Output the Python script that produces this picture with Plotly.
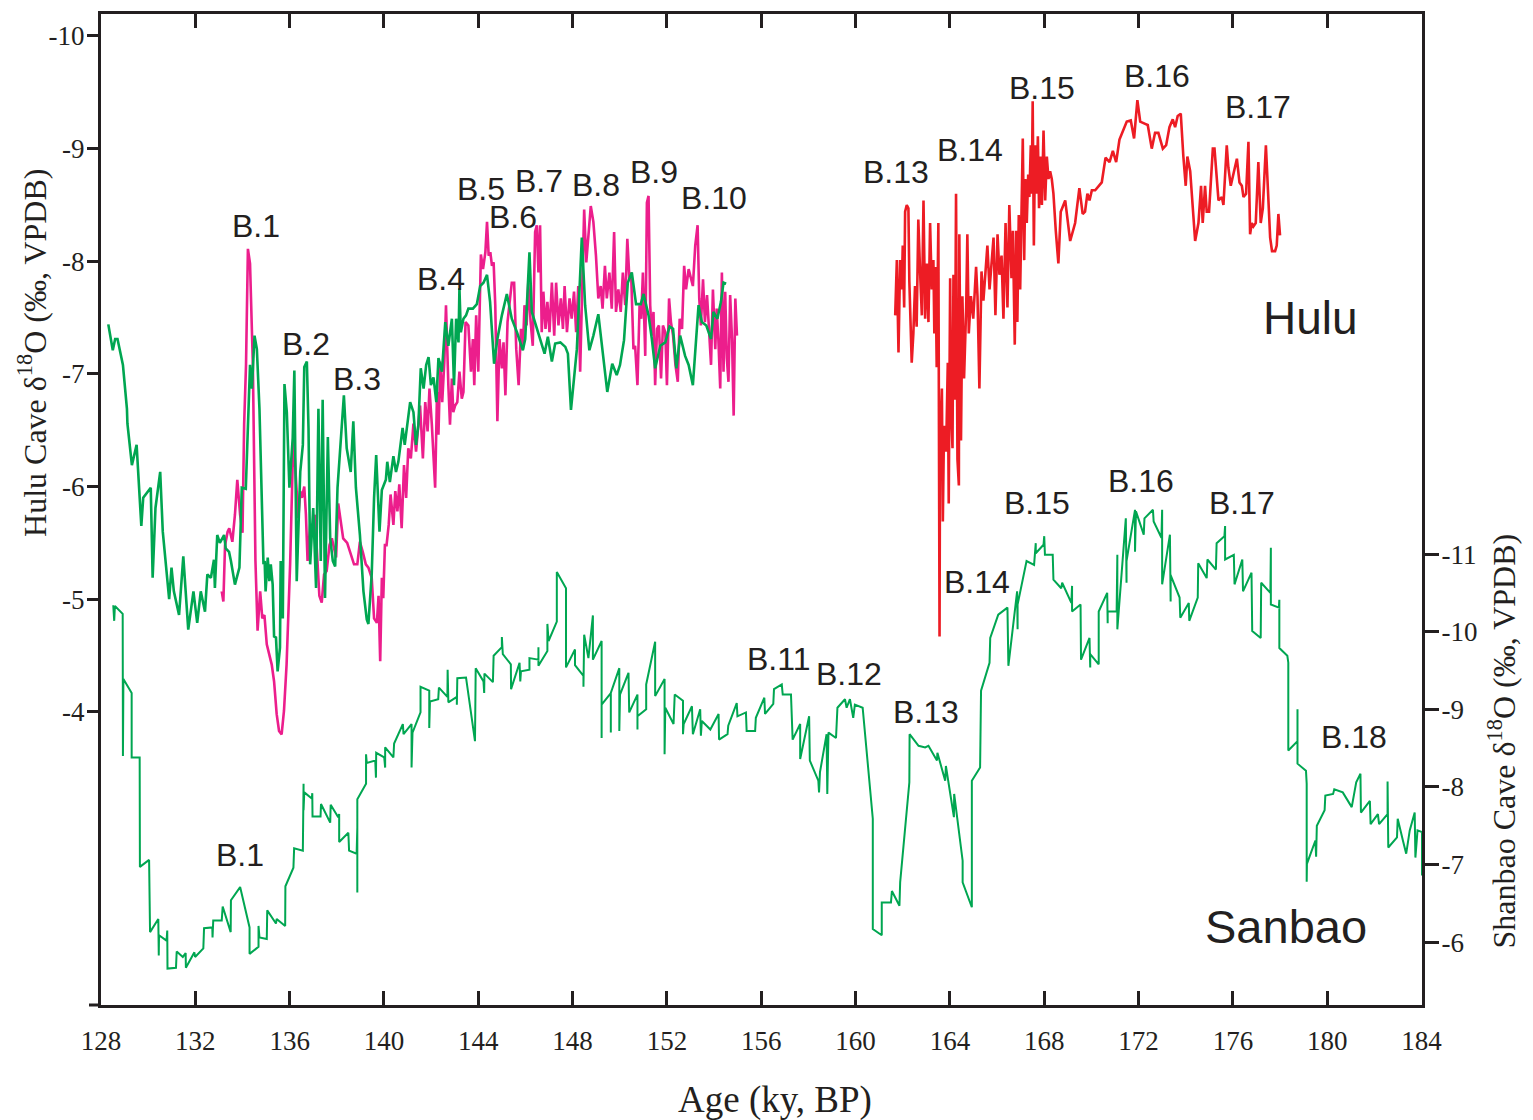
import plotly.graph_objects as go

# ---------------- Hulu Cave (left axis) ----------------
# (age ky BP, d18O permil) — green record
hulu_green = [
    (128.31, -7.44), (128.5, -7.21), (128.6, -7.31), (128.7, -7.31), (128.93, -7.08), (129.1, -6.69),
    (129.12, -6.56), (129.31, -6.19), (129.51, -6.37), (129.71, -5.65), (129.79, -5.90), (130.11, -5.99),
    (130.19, -5.19), (130.31, -5.81), (130.51, -6.13), (130.62, -5.60), (130.89, -5.00), (130.99, -5.28),
    (131.09, -5.07), (131.31, -4.86), (131.49, -5.38), (131.70, -4.73), (131.92, -5.07), (132.08, -4.79),
    (132.23, -5.07), (132.41, -4.89), (132.51, -5.22), (132.66, -5.19), (132.79, -5.35), (132.83, -5.10),
    (132.93, -5.57), (133.04, -5.50), (133.22, -5.57), (133.29, -5.45), (133.43, -5.42), (133.51, -5.34),
    (133.68, -5.13), (133.87, -5.28), (133.97, -5.99), (134.14, -5.98), (134.32, -7.08), (134.40, -6.87),
    (134.51, -7.34), (134.61, -7.22), (134.72, -6.69), (134.84, -5.72), (134.89, -5.31), (134.94, -5.34),
    (134.98, -5.07), (135.07, -5.37), (135.14, -5.16), (135.20, -5.31), (135.28, -5.13), (135.34, -4.67),
    (135.42, -4.66), (135.49, -4.36), (135.59, -4.57), (135.62, -5.34), (135.71, -4.83), (135.78, -6.91),
    (135.88, -6.66), (135.99, -5.99), (136.13, -6.43), (136.20, -7.03), (136.30, -5.16), (136.45, -6.13),
    (136.56, -6.37), (136.62, -7.06), (136.73, -7.11), (136.80, -6.52), (136.87, -5.31), (137.00, -5.81),
    (137.12, -5.10), (137.22, -6.69), (137.32, -5.34), (137.40, -6.77), (137.50, -5.01), (137.62, -6.44),
    (137.72, -5.54), (137.83, -5.34), (137.93, -5.29), (138.03, -5.99), (138.14, -6.34), (138.30, -6.81),
    (138.42, -6.34), (138.59, -6.13), (138.70, -6.58), (138.81, -5.99), (138.98, -5.57), (139.13, -5.07),
    (139.27, -4.82), (139.34, -4.78), (139.48, -5.22), (139.58, -5.90), (139.67, -6.28), (139.81, -5.60),
    (139.91, -5.97), (140.08, -6.06), (140.14, -6.22), (140.25, -6.04), (140.40, -6.27), (140.51, -6.13),
    (140.61, -6.22), (140.79, -6.52), (140.88, -6.37), (141.11, -6.75), (141.25, -6.66), (141.36, -6.37),
    (141.46, -6.55), (141.56, -7.05), (141.68, -6.87), (141.79, -7.08), (141.89, -7.15), (141.99, -6.90),
    (142.10, -6.97), (142.22, -6.75), (142.31, -7.14), (142.46, -7.02), (142.60, -7.46), (142.73, -7.25),
    (142.88, -7.49), (142.97, -6.90), (143.06, -7.49), (143.16, -7.28), (143.20, -7.76), (143.26, -7.37),
    (143.37, -7.49), (143.48, -7.52), (143.58, -7.58), (143.77, -7.58), (143.94, -7.62), (144.08, -7.78),
    (144.22, -7.81), (144.37, -7.88), (144.50, -7.64), (144.67, -7.09), (144.81, -7.31), (145.00, -7.52),
    (145.21, -7.71), (145.42, -7.49), (145.64, -7.37), (145.89, -7.21), (145.99, -7.31), (146.17, -8.08),
    (146.27, -7.55), (146.48, -7.40), (146.81, -7.18), (146.95, -7.33), (147.12, -7.11), (147.26, -7.27),
    (147.48, -7.28), (147.69, -7.24), (147.80, -7.18), (147.93, -6.68), (148.18, -7.22), (148.39, -8.21),
    (148.53, -7.61), (148.71, -7.21), (148.88, -7.34), (149.09, -7.53), (149.30, -7.17), (149.47, -6.84),
    (149.68, -7.09), (149.87, -6.99), (150.01, -7.08), (150.18, -7.30), (150.34, -7.81), (150.51, -7.90),
    (150.69, -7.62), (150.89, -7.62), (151.01, -7.71), (151.22, -7.52), (151.36, -7.31), (151.50, -7.05),
    (151.72, -7.25), (151.93, -7.28), (152.11, -7.42), (152.26, -7.40), (152.40, -7.05), (152.56, -7.34),
    (152.77, -7.16), (152.92, -7.08), (153.10, -6.90), (153.34, -7.61), (153.48, -7.46), (153.67, -7.43),
    (153.87, -7.31), (153.97, -7.55), (154.14, -7.49), (154.29, -7.64), (154.40, -7.81), (154.51, -7.80),
]

# magenta record
hulu_pink = [
    (133.12, -5.07), (133.19, -4.98), (133.26, -5.48), (133.37, -5.60), (133.44, -5.63), (133.57, -5.51),
    (133.68, -5.75), (133.78, -6.06), (133.90, -5.75), (134.00, -5.59), (134.07, -6.55), (134.15, -7.08),
    (134.23, -8.11), (134.32, -7.98), (134.44, -7.08), (134.49, -6.02), (134.55, -5.34), (134.64, -4.72),
    (134.75, -5.07), (134.84, -4.83), (134.93, -4.86), (135.03, -4.60), (135.24, -4.42), (135.34, -4.27),
    (135.45, -3.98), (135.55, -3.83), (135.66, -3.80), (135.76, -4.01), (135.87, -4.42), (136.02, -5.31),
    (136.09, -6.02), (136.16, -6.46), (136.28, -6.02), (136.37, -5.72), (136.45, -5.96), (136.52, -5.90),
    (136.62, -6.00), (136.69, -5.75), (136.76, -5.34), (136.87, -5.66), (136.98, -5.66), (137.08, -5.75),
    (137.15, -5.45), (137.26, -5.03), (137.36, -4.97), (137.46, -5.22), (137.57, -5.25), (137.69, -5.48),
    (137.79, -5.54), (137.86, -5.48), (137.97, -5.37), (138.06, -5.85), (138.16, -5.69), (138.27, -5.54),
    (138.44, -5.50), (138.56, -5.42), (138.73, -5.31), (138.87, -5.31), (138.98, -5.51), (139.10, -5.42),
    (139.23, -5.31), (139.34, -5.28), (139.48, -5.19), (139.58, -4.83), (139.70, -4.79), (139.77, -5.03),
    (139.84, -4.45), (139.91, -5.19), (139.97, -5.01), (140.04, -5.48), (140.11, -5.48), (140.20, -5.66),
    (140.28, -5.93), (140.40, -5.66), (140.48, -5.96), (140.57, -5.78), (140.65, -6.02), (140.75, -5.63),
    (140.85, -6.19), (140.94, -5.90), (141.03, -6.34), (141.14, -6.25), (141.25, -6.56), (141.36, -6.31),
    (141.46, -6.58), (141.53, -6.72), (141.65, -6.25), (141.75, -6.75), (141.85, -6.49), (141.93, -6.87),
    (142.03, -6.55), (142.10, -6.22), (142.17, -5.99), (142.25, -6.84), (142.31, -6.46), (142.39, -7.11),
    (142.47, -6.75), (142.56, -7.11), (142.63, -7.61), (142.73, -6.90), (142.80, -6.55), (142.88, -6.96),
    (142.94, -6.66), (143.02, -6.72), (143.11, -6.75), (143.20, -7.02), (143.30, -6.78), (143.37, -6.84),
    (143.46, -7.46), (143.58, -7.43), (143.69, -7.02), (143.77, -7.31), (143.83, -6.90), (143.91, -7.52),
    (144.00, -7.02), (144.11, -8.06), (144.20, -7.93), (144.30, -8.08), (144.37, -8.35), (144.44, -8.05),
    (144.51, -8.08), (144.58, -7.96), (144.65, -7.99), (144.72, -7.61), (144.81, -6.58), (144.90, -7.31),
    (145.00, -7.05), (145.07, -7.28), (145.15, -6.81), (145.24, -7.46), (145.32, -7.61), (145.42, -7.81),
    (145.52, -7.81), (145.61, -7.22), (145.71, -6.90), (145.81, -7.40), (145.89, -7.22), (145.96, -7.61),
    (146.05, -7.43), (146.12, -7.81), (146.22, -7.46), (146.31, -7.25), (146.41, -8.26), (146.48, -8.32),
    (146.55, -7.90), (146.62, -8.32), (146.69, -7.37), (146.76, -7.73), (146.85, -7.40), (146.93, -7.64),
    (147.02, -7.37), (147.12, -7.81), (147.22, -7.34), (147.30, -7.81), (147.40, -7.43), (147.50, -7.67),
    (147.59, -7.40), (147.66, -7.78), (147.76, -7.37), (147.87, -7.67), (147.96, -7.49), (148.06, -7.73),
    (148.15, -7.37), (148.24, -7.78), (148.32, -7.02), (148.39, -7.61), (148.49, -8.46), (148.58, -7.99),
    (148.67, -8.26), (148.77, -8.49), (148.88, -8.35), (148.99, -8.05), (149.09, -7.67), (149.19, -7.78),
    (149.27, -7.58), (149.37, -7.96), (149.45, -7.67), (149.56, -7.90), (149.66, -7.58), (149.76, -8.26),
    (149.84, -7.55), (149.94, -7.75), (150.04, -7.55), (150.13, -7.90), (150.23, -7.61), (150.32, -8.20),
    (150.41, -7.84), (150.48, -7.90), (150.58, -7.22), (150.65, -7.25), (150.75, -6.90), (150.84, -7.61),
    (150.91, -7.49), (150.98, -7.90), (151.08, -7.16), (151.15, -8.52), (151.22, -8.58), (151.29, -7.61),
    (151.36, -7.34), (151.43, -7.55), (151.50, -6.90), (151.58, -7.40), (151.66, -7.43), (151.75, -6.96),
    (151.83, -7.43), (151.93, -7.37), (152.00, -6.90), (152.09, -7.67), (152.17, -7.46), (152.26, -7.34),
    (152.36, -7.08), (152.46, -6.93), (152.54, -7.49), (152.64, -7.40), (152.73, -7.96), (152.81, -7.75),
    (152.92, -7.93), (153.02, -7.84), (153.10, -7.78), (153.20, -8.14), (153.30, -8.32), (153.37, -7.67),
    (153.44, -7.43), (153.53, -7.84), (153.61, -7.46), (153.70, -7.70), (153.78, -7.40), (153.87, -7.08),
    (153.95, -7.75), (154.05, -7.22), (154.11, -7.58), (154.18, -7.31), (154.26, -6.87), (154.33, -7.90),
    (154.40, -7.02), (154.47, -7.73), (154.54, -7.14), (154.61, -6.93), (154.68, -7.70), (154.76, -7.31),
    (154.83, -6.63), (154.90, -7.67), (154.97, -7.34),
]

# red record
hulu_red = [
    (161.68, -7.52), (161.75, -8.01), (161.82, -7.19), (161.89, -8.01), (161.96, -7.75), (162.00, -8.14),
    (162.06, -7.59), (162.10, -8.44), (162.17, -8.50), (162.24, -8.47), (162.28, -7.82), (162.38, -7.10),
    (162.45, -7.36), (162.52, -7.78), (162.59, -7.42), (162.66, -8.37), (162.74, -7.88), (162.81, -7.52),
    (162.88, -8.54), (162.95, -7.49), (163.02, -7.98), (163.09, -7.46), (163.16, -8.34), (163.23, -7.75),
    (163.30, -8.01), (163.34, -7.36), (163.39, -7.95), (163.44, -7.06), (163.51, -8.34), (163.56, -4.67),
    (163.58, -6.34), (163.66, -6.87), (163.70, -5.69), (163.75, -6.54), (163.84, -6.31), (163.91, -7.10),
    (163.95, -5.85), (164.01, -7.85), (164.05, -6.70), (164.11, -6.34), (164.15, -7.88), (164.21, -6.77),
    (164.26, -8.60), (164.32, -6.24), (164.38, -6.01), (164.40, -8.24), (164.47, -6.41), (164.53, -7.69),
    (164.60, -6.96), (164.69, -7.59), (164.74, -8.24), (164.80, -7.36), (164.89, -7.69), (164.99, -7.49),
    (165.11, -7.95), (165.17, -7.69), (165.25, -6.87), (165.34, -7.91), (165.42, -7.65), (165.51, -7.91),
    (165.59, -8.14), (165.68, -7.75), (165.76, -7.95), (165.85, -8.21), (165.93, -7.52), (166.02, -8.24),
    (166.10, -7.88), (166.19, -8.05), (166.27, -7.49), (166.36, -8.34), (166.44, -7.59), (166.52, -8.50),
    (166.61, -7.85), (166.67, -8.27), (166.75, -7.26), (166.81, -8.27), (166.86, -7.46), (166.92, -8.41),
    (166.98, -7.75), (167.03, -8.60), (167.09, -9.09), (167.15, -8.01), (167.20, -8.73), (167.26, -8.34),
    (167.32, -8.77), (167.37, -8.57), (167.43, -9.03), (167.47, -8.60), (167.51, -9.42), (167.56, -8.14),
    (167.61, -9.03), (167.67, -8.60), (167.73, -9.11), (167.78, -8.47), (167.84, -8.93), (167.90, -8.50),
    (167.97, -9.16), (168.04, -8.54), (168.11, -8.93), (168.18, -8.73), (168.25, -8.80), (168.32, -8.73),
    (168.39, -8.60), (168.49, -8.27), (168.60, -7.98), (168.70, -8.44), (168.89, -8.54), (169.10, -8.18),
    (169.31, -8.34), (169.49, -8.65), (169.63, -8.42), (169.73, -8.44), (169.83, -8.60), (169.92, -8.54),
    (170.02, -8.63), (170.16, -8.63), (170.30, -8.67), (170.44, -8.70), (170.60, -8.92), (170.77, -8.88),
    (170.91, -8.98), (171.05, -8.88), (171.19, -9.08), (171.36, -9.17), (171.50, -9.24), (171.67, -9.25),
    (171.81, -9.09), (171.95, -9.43), (172.07, -9.24), (172.28, -9.22), (172.39, -9.21), (172.56, -9.00),
    (172.70, -9.14), (172.84, -9.14), (173.03, -9.00), (173.17, -9.03), (173.31, -9.19), (173.45, -9.26),
    (173.55, -9.19), (173.66, -9.29), (173.79, -9.31), (173.90, -8.93), (174.00, -8.67), (174.07, -8.93),
    (174.19, -8.80), (174.40, -8.18), (174.54, -8.34), (174.65, -8.67), (174.72, -8.34), (174.82, -8.67),
    (174.89, -8.44), (174.99, -8.44), (175.15, -9.00), (175.22, -9.00), (175.39, -8.54), (175.53, -8.57),
    (175.60, -8.50), (175.74, -9.03), (175.81, -8.83), (175.91, -8.67), (176.02, -8.77), (176.17, -8.91),
    (176.28, -8.70), (176.38, -8.67), (176.45, -8.57), (176.56, -8.60), (176.66, -9.06), (176.73, -8.24),
    (176.80, -8.34), (176.87, -8.31), (176.97, -8.34), (177.08, -8.88), (177.18, -8.34), (177.27, -8.47),
    (177.40, -9.03), (177.51, -8.47), (177.58, -8.21), (177.66, -8.09), (177.79, -8.09), (177.86, -8.14),
    (177.93, -8.42), (178.00, -8.23),
]

# ---------------- Sanbao Cave (right axis) ----------------
sanbao = [
    (128.52, -10.34), (128.56, -10.14), (128.59, -10.33), (128.92, -10.23), (128.93, -8.40), (128.95, -9.39),
    (129.30, -9.21), (129.30, -8.38), (129.64, -8.38), (129.65, -6.97), (130.04, -7.06), (130.05, -6.50),
    (130.08, -6.13), (130.43, -6.30), (130.45, -5.83), (130.46, -6.09), (130.78, -6.02), (130.81, -6.15),
    (130.82, -5.66), (131.18, -5.67), (131.21, -5.88), (131.47, -5.81), (131.59, -5.86), (131.60, -5.67),
    (131.96, -5.87), (131.99, -5.81), (132.34, -5.92), (132.37, -6.18), (132.72, -6.19), (132.73, -6.06),
    (132.76, -6.28), (133.12, -6.28), (133.16, -6.46), (133.50, -6.13), (133.51, -6.54), (133.90, -6.71),
    (134.30, -6.19), (134.30, -5.85), (134.68, -5.94), (134.68, -6.21), (134.72, -6.06), (135.03, -6.04),
    (135.05, -6.41), (135.42, -6.24), (135.45, -6.30), (135.81, -6.21), (135.82, -6.72), (136.16, -6.96),
    (136.19, -7.21), (136.56, -7.18), (136.59, -8.04), (136.59, -7.70), (136.62, -7.93), (136.94, -7.85),
    (136.96, -7.92), (136.97, -7.62), (137.31, -7.62), (137.33, -7.78), (137.72, -7.54), (137.74, -7.77),
    (138.06, -7.61), (138.10, -7.65), (138.10, -7.29), (138.49, -7.41), (138.52, -7.18), (138.84, -7.14),
    (138.87, -7.48), (138.87, -6.64), (138.87, -7.84), (139.24, -8.04), (139.24, -8.42), (139.27, -8.31),
    (139.63, -8.34), (139.66, -8.12), (139.67, -8.44), (140.01, -8.38), (140.05, -8.25), (140.05, -8.51),
    (140.40, -8.38), (140.43, -8.56), (140.80, -8.81), (140.83, -8.68), (141.17, -8.81), (141.17, -8.25),
    (141.21, -8.70), (141.55, -8.96), (141.55, -9.29), (141.92, -9.24), (141.92, -8.76), (141.95, -9.10),
    (142.30, -9.13), (142.33, -9.28), (142.69, -9.16), (142.70, -9.51), (142.73, -9.09), (143.09, -9.16),
    (143.09, -9.06), (143.11, -9.40), (143.48, -9.41), (143.86, -8.59), (143.89, -9.53), (144.22, -9.36),
    (144.25, -9.21), (144.26, -9.46), (144.62, -9.35), (144.65, -9.69), (145.00, -9.80), (145.00, -9.93),
    (145.04, -9.71), (145.38, -9.58), (145.39, -9.26), (145.75, -9.60), (145.78, -9.36), (145.81, -9.49),
    (146.17, -9.51), (146.17, -9.66), (146.55, -9.64), (146.55, -9.80), (146.55, -9.56), (146.93, -9.75),
    (146.93, -10.10), (146.98, -9.88), (147.33, -10.13), (147.33, -10.77), (147.72, -10.56), (147.72, -9.54),
    (148.10, -9.77), (148.10, -9.57), (148.46, -9.43), (148.46, -9.29), (148.49, -9.96), (148.67, -9.66),
    (148.86, -10.21), (148.86, -9.64), (149.23, -9.88), (149.23, -8.63), (149.23, -9.06), (149.62, -9.21),
    (149.62, -8.70), (149.62, -9.21), (149.98, -9.53), (149.98, -8.72), (150.01, -9.19), (150.37, -9.47),
    (150.40, -8.96), (150.75, -9.19), (150.75, -8.74), (150.75, -8.91), (151.12, -9.00), (151.12, -9.32),
    (151.50, -9.87), (151.50, -9.17), (151.90, -9.39), (151.90, -8.42), (151.93, -9.02), (152.28, -8.81),
    (152.33, -9.19), (152.68, -9.11), (152.68, -8.68), (152.71, -8.81), (153.06, -9.04), (153.10, -8.68),
    (153.41, -9.00), (153.44, -8.66), (153.48, -8.85), (153.84, -8.74), (154.19, -8.94), (154.21, -8.61),
    (154.57, -8.68), (154.60, -8.79), (154.96, -9.08), (154.99, -8.91), (155.35, -8.96), (155.38, -8.72),
    (155.74, -8.72), (155.77, -8.89), (156.13, -9.15), (156.16, -8.94), (156.51, -9.07), (156.54, -9.26),
    (156.87, -9.32), (156.91, -9.19), (157.26, -9.19), (157.29, -8.85), (157.33, -8.61), (157.65, -8.81),
    (157.65, -8.36), (158.03, -8.91), (158.06, -8.34), (158.42, -8.08), (158.45, -7.93), (158.49, -8.19),
    (158.77, -8.68), (158.80, -7.91), (158.85, -8.70), (159.17, -8.63), (159.20, -8.85), (159.23, -9.02),
    (159.55, -9.13), (159.62, -9.02), (159.76, -9.13), (159.90, -8.89), (159.97, -9.06), (160.30, -9.02),
    (160.73, -7.59), (160.73, -6.17), (161.11, -6.09), (161.11, -6.51), (161.50, -6.51), (161.54, -6.66),
    (161.86, -6.47), (161.89, -6.77), (162.28, -8.06), (162.29, -8.68), (162.67, -8.53), (162.95, -8.51),
    (163.09, -8.53), (163.45, -8.34), (163.47, -8.44), (163.80, -8.08), (163.83, -8.27), (164.17, -7.61),
    (164.18, -7.91), (164.54, -7.05), (164.54, -6.77), (164.93, -6.45), (164.93, -8.08), (165.28, -8.25),
    (165.32, -9.24), (165.68, -9.60), (165.71, -9.92), (166.05, -10.22), (166.44, -10.31), (166.48, -9.56),
    (166.85, -10.52), (166.87, -10.03), (166.87, -10.35), (167.25, -10.91), (167.57, -10.86), (167.64, -11.14),
    (167.64, -11.01), (167.97, -11.12), (168.00, -11.23), (168.03, -10.99), (168.36, -10.99), (168.39, -10.67),
    (168.72, -10.56), (168.76, -10.63), (169.15, -10.37), (169.18, -10.59), (169.18, -10.26), (169.54, -10.35),
    (169.56, -9.64), (169.92, -9.92), (169.95, -9.54), (169.95, -9.71), (170.31, -9.58), (170.31, -10.26),
    (170.67, -10.50), (170.69, -10.11), (170.69, -10.26), (171.07, -10.26), (171.10, -10.99), (171.10, -10.03),
    (171.46, -11.46), (171.49, -10.63), (171.49, -10.91), (171.85, -11.57), (171.85, -11.03), (171.89, -11.55),
    (172.22, -11.25), (172.25, -11.46), (172.61, -11.57), (172.64, -11.42), (172.97, -11.21), (173.00, -11.57),
    (173.00, -10.61), (173.33, -11.25), (173.36, -10.39), (173.36, -10.73), (173.74, -10.44), (173.77, -10.18),
    (174.13, -10.37), (174.15, -10.14), (174.51, -10.44), (174.53, -10.88), (174.89, -10.69), (174.92, -10.93),
    (175.28, -10.80), (175.31, -11.14), (175.64, -11.23), (175.67, -11.36), (175.67, -10.93), (176.04, -10.99),
    (176.07, -10.61), (176.40, -10.93), (176.43, -10.52), (176.79, -10.76), (176.82, -10.01), (177.18, -9.92),
    (177.20, -10.63), (177.59, -10.50), (177.61, -11.08), (177.61, -10.35), (177.95, -10.31), (177.97, -10.41),
    (177.97, -9.79), (178.31, -9.69), (178.35, -9.60), (178.35, -8.47), (178.74, -8.59), (178.74, -9.00),
    (178.74, -8.30), (179.10, -8.21), (179.13, -8.04), (179.13, -6.78), (179.14, -7.01), (179.50, -7.31),
    (179.53, -7.10), (179.56, -7.50), (179.89, -7.70), (179.92, -7.89), (180.25, -7.91), (180.30, -7.97),
    (180.66, -7.93), (181.04, -7.74), (181.23, -8.06), (181.41, -8.17), (181.43, -7.67), (181.81, -7.82),
    (181.84, -7.52), (182.15, -7.65), (182.20, -7.52), (182.56, -7.65), (182.56, -8.07), (182.59, -7.22),
    (182.96, -7.35), (182.99, -7.59), (183.21, -7.31), (183.35, -7.14), (183.50, -7.44), (183.71, -7.67),
    (183.74, -7.09), (183.83, -7.44), (184.02, -7.42), (184.02, -6.86),
]

# Event labels: (text, age, d18O)
hulu_labels = [
    ("B.1", 134.57, -8.28), ("B.2", 136.69, -7.23), ("B.3", 138.86, -6.92), ("B.4", 142.42, -7.81),
    ("B.5", 144.12, -8.61), ("B.6", 145.47, -8.36), ("B.7", 146.57, -8.68), ("B.8", 148.99, -8.64),
    ("B.9", 151.45, -8.76), ("B.10", 153.99, -8.53), ("B.13", 161.71, -8.76), ("B.14", 164.85, -8.95),
    ("B.15", 167.91, -9.50), ("B.16", 172.78, -9.61), ("B.17", 177.07, -9.33),
]
sanbao_labels = [
    ("B.1", 133.89, -7.07), ("B.11", 156.74, -9.60), ("B.12", 159.72, -9.40), ("B.13", 162.97, -8.91),
    ("B.14", 165.15, -10.59), ("B.15", 167.68, -11.60), ("B.16", 172.10, -11.89), ("B.17", 176.39, -11.60),
    ("B.18", 181.14, -8.59),
]
hulu_name = ("Hulu", 179.31, -7.47)
sanbao_name = ("Sanbao", 178.24, -6.17)

age_ticks = list(range(128, 185, 4))
hulu_ticks = [-10, -9, -8, -7, -6, -5, -4]
sanbao_ticks = [-11, -10, -9, -8, -7, -6]

GREEN = "#00a651"
PINK = "#ec1e8c"
RED = "#ed1c24"
INK = "#231f20"
SERIF = "Liberation Serif, Times New Roman, serif"
SANS = "Liberation Sans, Arial, sans-serif"


def cols(pairs):
    return [p[0] for p in pairs], [p[1] for p in pairs]


fig = go.Figure()

for pairs, color, width, yax in [
    (sanbao, GREEN, 2.0, "y2"),
    (hulu_pink, PINK, 2.6, "y"),
    (hulu_green, GREEN, 2.6, "y"),
    (hulu_red, RED, 2.6, "y"),
]:
    xs, ys = cols(pairs)
    fig.add_trace(go.Scatter(x=xs, y=ys, mode="lines", yaxis=yax,
                             line=dict(color=color, width=width),
                             hoverinfo="skip", showlegend=False))

label_font = dict(family=SANS, size=32, color=INK)
annotations = []
for text, x, y in hulu_labels:
    annotations.append(dict(x=x, y=y, xref="x", yref="y", text=text, showarrow=False,
                            yshift=4, font=label_font))
for text, x, y in sanbao_labels:
    annotations.append(dict(x=x, y=y, xref="x", yref="y2", text=text, showarrow=False,
                            yshift=4, font=label_font))
annotations.append(dict(x=hulu_name[1], y=hulu_name[2], xref="x", yref="y", text=hulu_name[0],
                        showarrow=False, yshift=3, font=dict(family=SANS, size=46, color=INK)))
annotations.append(dict(x=sanbao_name[1], y=sanbao_name[2], xref="x", yref="y2", text=sanbao_name[0],
                        showarrow=False, yshift=3, font=dict(family=SANS, size=47, color=INK)))

# axis titles
annotations.append(dict(x=-0.0522, y=0.658, xref="paper", yref="paper",
                        text="Hulu Cave δ<sup>18</sup>O (‰, VPDB)", textangle=-90, showarrow=False,
                        xanchor="center", yanchor="middle",
                        font=dict(family=SERIF, size=32, color=INK)))
annotations.append(dict(x=1.0606, y=0.266, xref="paper", yref="paper",
                        text="Shanbao Cave δ<sup>18</sup>O (‰, VPDB)", textangle=-90, showarrow=False,
                        xanchor="center", yanchor="middle",
                        font=dict(family=SERIF, size=32, color=INK)))
annotations.append(dict(x=0.5102, y=-0.0956, xref="paper", yref="paper",
                        text="Age (ky, BP)", showarrow=False, xanchor="center", yanchor="middle",
                        font=dict(family=SERIF, size=37, color=INK)))

fig.update_layout(
    width=1533, height=1120,
    margin=dict(l=101, r=111, t=11, b=115),
    paper_bgcolor="white", plot_bgcolor="white",
    showlegend=False,
    annotations=annotations,
    shapes=[dict(type="line", xref="paper", yref="paper", x0=-0.0091, x1=0, y0=0, y1=0,
                 line=dict(color=INK, width=3))],
    xaxis=dict(range=[128, 184.02], tickvals=age_ticks, ticktext=[str(t) for t in age_ticks],
               ticks="inside", ticklen=14, tickwidth=2.5, tickcolor=INK,
               showline=True, linewidth=3, linecolor=INK, mirror="ticks",
               showgrid=False, zeroline=False, ticklabelstandoff=10,
               tickfont=dict(family=SERIF, size=27, color=INK)),
    yaxis=dict(range=[-1.398, -10.195], tickvals=hulu_ticks, ticktext=[str(t) for t in hulu_ticks],
               ticks="outside", ticklen=11, tickwidth=2.5, tickcolor=INK,
               showline=True, linewidth=3, linecolor=INK,
               showgrid=False, zeroline=False, ticklabelstandoff=-3,
               tickfont=dict(family=SERIF, size=27, color=INK)),
    yaxis2=dict(range=[-5.191, -17.957], tickvals=sanbao_ticks, ticktext=[str(t) for t in sanbao_ticks],
                overlaying="y", side="right",
                ticks="outside", ticklen=14, tickwidth=2.5, tickcolor=INK,
                showline=True, linewidth=3, linecolor=INK,
                showgrid=False, zeroline=False, ticklabelstandoff=-3,
                tickfont=dict(family=SERIF, size=27, color=INK)),
)

fig.write_html("out.html")
